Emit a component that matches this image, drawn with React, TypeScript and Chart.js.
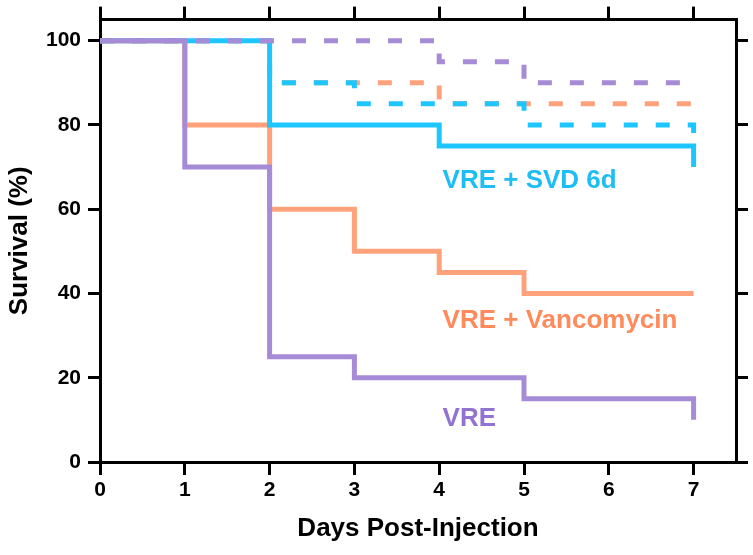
import React, { useEffect, useRef } from "react";
import { Chart, registerables } from "chart.js";

Chart.register(...registerables);

// ---- data ----
const days = [0, 1, 2, 3, 4, 5, 6, 7];
const xTickValues = [0, 1, 2, 3, 4, 5, 6, 7];
const yTickValues = [0, 20, 40, 60, 80, 100];

// survival (%) at the end of each day
const vreSolid = [100, 70, 25, 20, 20, 15, 15, 10];
const vancoSolid = [100, 80, 60, 50, 45, 40, 40, 40];
const svdSolid = [100, 100, 80, 80, 75, 75, 75, 70];
const vreDashed = [100, 100, 100, 100, 95, 90, 90, 90];
const vancoDashed = [100, 100, 90, 90, 85, 85, 85, 85];
const svdDashed = [100, 100, 90, 85, 85, 80, 80, 75];

const seriesLabels = ["VRE", "VRE + Vancomycin", "VRE + SVD 6d"];
// label anchors in data units (day, survival %)
const labelDays = [4.04, 4.04, 4.04];
const labelSurvival = [8.6, 31.8, 65.0];

const PURPLE = "#A68BD6";
const ORANGE = "#FFA27C";
const CYAN = "#1EC6FF";
const PURPLE_TEXT = "#9273D0";
const ORANGE_TEXT = "#FF8A5C";
const CYAN_TEXT = "#1EBEF5";

const FONT = "'Liberation Sans', Arial, Helvetica, sans-serif";

const toPoints = (arr: number[]) => days.map((d, i) => ({ x: d, y: arr[i] }));

const labelPlugin = {
  id: "seriesLabels",
  afterDatasetsDraw(chart: any) {
    const { ctx, scales } = chart;
    const colors = [PURPLE_TEXT, ORANGE_TEXT, CYAN_TEXT];
    ctx.save();
    ctx.font = `bold 26px ${FONT}`;
    ctx.textAlign = "left";
    ctx.textBaseline = "alphabetic";
    seriesLabels.forEach((t, i) => {
      ctx.fillStyle = colors[i];
      ctx.fillText(
        t,
        scales.x.getPixelForValue(labelDays[i]),
        scales.y.getPixelForValue(labelSurvival[i])
      );
    });
    ctx.restore();
  },
};

const axisGrid = (len: number) => ({
  display: true,
  drawOnChartArea: false,
  drawTicks: true,
  tickLength: len,
  tickWidth: 3,
  tickColor: "#000",
  color: "#000",
  lineWidth: 3,
});
const axisBorder = { display: true, color: "#000", width: 3 };

export default function App() {
  const ref = useRef<HTMLCanvasElement>(null);

  useEffect(() => {
    if (!ref.current) return;
    const dash = [14, 18];
    const common = {
      borderWidth: 5,
      pointRadius: 0,
      stepped: "before" as const,
      fill: false,
      borderCapStyle: "butt" as const,
      borderJoinStyle: "miter" as const,
    };
    const chart = new Chart(ref.current, {
      type: "line",
      data: {
        datasets: [
          { ...common, label: "VRE", data: toPoints(vreSolid), borderColor: PURPLE },
          { ...common, label: "VRE dashed", data: toPoints(vreDashed), borderColor: PURPLE, borderDash: dash },
          { ...common, label: "SVD dashed", data: toPoints(svdDashed), borderColor: CYAN, borderDash: dash },
          { ...common, label: "Vanco dashed", data: toPoints(vancoDashed), borderColor: ORANGE, borderDash: dash },
          { ...common, label: "VRE + SVD 6d", data: toPoints(svdSolid), borderColor: CYAN },
          { ...common, label: "VRE + Vancomycin", data: toPoints(vancoSolid), borderColor: ORANGE },
        ],
      },
      options: {
        animation: false,
        responsive: false,
        devicePixelRatio: 1,
        layout: { padding: 0 },
        plugins: { legend: { display: false }, tooltip: { enabled: false } },
        scales: {
          x: {
            type: "linear",
            position: "bottom",
            min: 0,
            max: 7.5,
            offset: false,
            afterBuildTicks: (s: any) => {
              s.ticks = xTickValues.map((v) => ({ value: v }));
            },
            afterFit: (s: any) => {
              s.height = 93;
            },
            grid: axisGrid(13),
            border: axisBorder,
            ticks: {
              color: "#000",
              font: { family: FONT, size: 21, weight: "bold" },
              padding: 3,
              maxRotation: 0,
            },
            title: {
              display: true,
              text: "Days Post-Injection",
              color: "#000",
              font: { family: FONT, size: 26, weight: "bold" },
              padding: { top: 4, bottom: 11 },
            },
          },
          xTop: {
            type: "linear",
            position: "top",
            min: 0,
            max: 7.5,
            offset: false,
            afterBuildTicks: (s: any) => {
              s.ticks = xTickValues.map((v) => ({ value: v }));
            },
            afterFit: (s: any) => {
              s.height = 17;
            },
            grid: axisGrid(13),
            border: axisBorder,
            ticks: { display: false },
          },
          y: {
            type: "linear",
            position: "left",
            min: 0,
            max: 105,
            afterBuildTicks: (s: any) => {
              s.ticks = yTickValues.map((v) => ({ value: v }));
            },
            afterFit: (s: any) => {
              s.width = 100;
            },
            grid: axisGrid(12),
            border: axisBorder,
            ticks: {
              color: "#000",
              font: { family: FONT, size: 21, weight: "bold" },
              padding: 7,
            },
            title: {
              display: true,
              text: "Survival (%)",
              color: "#000",
              font: { family: FONT, size: 26, weight: "bold" },
              padding: { top: 4, bottom: 4 },
            },
          },
          yRight: {
            type: "linear",
            position: "right",
            min: 0,
            max: 105,
            afterBuildTicks: (s: any) => {
              s.ticks = yTickValues.map((v) => ({ value: v }));
            },
            afterFit: (s: any) => {
              s.width = 17;
            },
            grid: axisGrid(12),
            border: axisBorder,
            ticks: { display: false },
          },
        },
      },
      plugins: [labelPlugin],
    } as any);
    return () => chart.destroy();
  }, []);

  return (
    <div style={{ position: "fixed", left: 0, top: 0, width: 753, height: 555, background: "#fff" }}>
      <canvas ref={ref} width={753} height={555} style={{ width: 753, height: 555, display: "block" }} />
    </div>
  );
}
